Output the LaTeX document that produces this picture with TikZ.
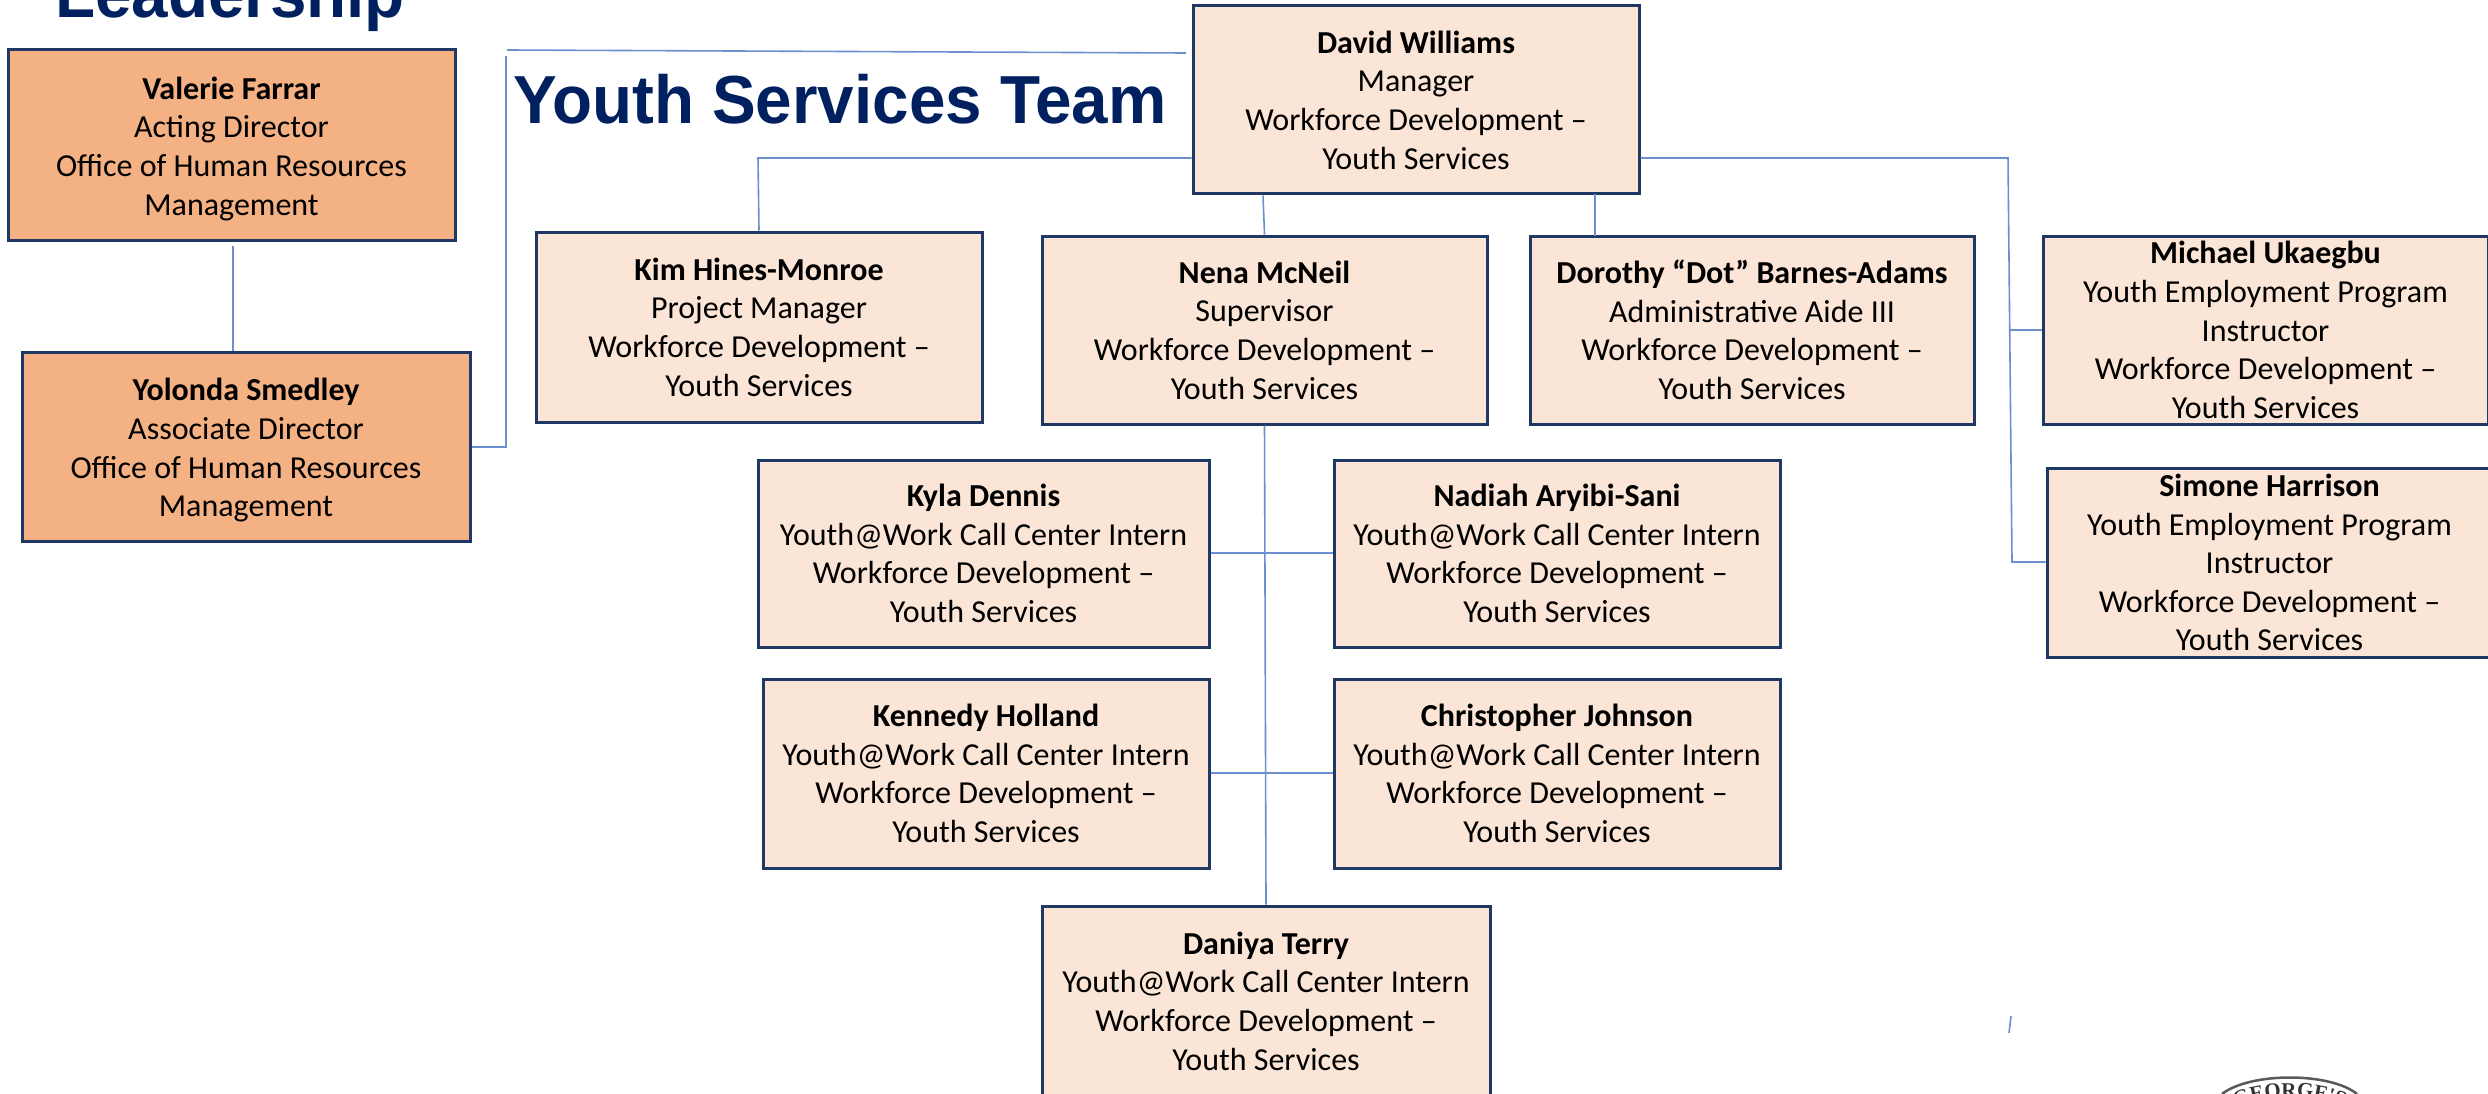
\documentclass[tikz,border=0pt]{standalone}
\usepackage{fontspec}
\setmainfont{Carlito}
\newfontfamily\titlefont{Liberation Sans}
\newfontfamily\sealfont{Liberation Serif}
\usetikzlibrary{calc,decorations.text}
\definecolor{navy}{HTML}{1F3864}
\definecolor{peach}{HTML}{FBE5D6}
\definecolor{orangebox}{HTML}{F4B183}
\definecolor{wire}{HTML}{6C8FD0}
\definecolor{titleblue}{HTML}{002060}
\tikzset{
  personbox/.style={draw=navy,line width=3pt,fill=peach,align=center,inner sep=0pt,text=black,
    font=\fontsize{32}{38.6}\selectfont},
  leadbox/.style={personbox,fill=orangebox},
  wireline/.style={draw=wire,line width=1.6pt},
  titletext/.style={font=\titlefont\bfseries\fontsize{68}{80}\selectfont,text=titleblue,inner sep=0pt,anchor=base west,xscale=0.964},
}
\newcommand{\pbox}[7][personbox]{%
  \node[#1,minimum width=#4pt-#2pt,minimum height=#5pt-#3pt] (#6) at ({(#2+#4)/2},{(#3+#5)/2}) {#7};}
\begin{document}
\begin{tikzpicture}[x=1pt,y=-1pt]
\useasboundingbox (0,0) rectangle (2488,1094);
\clip (0,0) rectangle (2488,1094);
\fill[white] (0,0) rectangle (2488,1094);

\coordinate (topL) at (507,50);
\coordinate (topR) at (1186,53);
\coordinate (vtop) at (506,56);
\coordinate (valend) at (233,246);
\coordinate (kimturn) at (758,158);
\coordinate (rturn) at (2008,158);
\coordinate (mbranch) at (2010,330);
\coordinate (sbranch) at (2012,562);
\coordinate (tickA) at (2011,1016);
\coordinate (tickB) at (2009,1033);

\pbox[leadbox]{8}{50}{455}{240}{valerie}{\rule{0pt}{30pt}\textbf{Valerie Farrar}\\Acting Director\\Office of Human Resources\\Management}
\pbox[leadbox]{22}{352}{470}{541}{yolonda}{\rule{0pt}{30pt}\textbf{Yolonda Smedley}\\Associate Director\\Office of Human Resources\\Management}
\pbox{1193}{6}{1639}{194}{david}{\textbf{David Williams}\\Manager\\Workforce Development --\\Youth Services}
\pbox{536}{232}{982}{422}{kim}{\textbf{Kim Hines-Monroe}\\Project Manager\\Workforce Development --\\Youth Services}
\pbox{1042}{236}{1487}{424}{nena}{\textbf{Nena McNeil}\\Supervisor\\Workforce Development --\\Youth Services}
\pbox{1530}{236}{1974}{424}{dot}{\textbf{Dorothy “Dot” Barnes-Adams}\\Administrative Aide III\\Workforce Development --\\Youth Services}
\pbox{2043}{236}{2488}{424}{michael}{\textbf{Michael Ukaegbu}\\Youth Employment Program\\Instructor\\Workforce Development --\\Youth Services}
\pbox{2047}{468}{2492}{657}{simone}{\textbf{Simone Harrison}\\Youth Employment Program\\Instructor\\Workforce Development --\\Youth Services}
\pbox{758}{460}{1209}{647}{kyla}{\textbf{Kyla Dennis}\\Youth@Work Call Center Intern\\Workforce Development --\\Youth Services}
\pbox{1334}{460}{1780}{647}{nadiah}{\textbf{Nadiah Aryibi-Sani}\\Youth@Work Call Center Intern\\Workforce Development --\\Youth Services}
\pbox{763}{679}{1209}{868}{kennedy}{\textbf{Kennedy Holland}\\Youth@Work Call Center Intern\\Workforce Development --\\Youth Services}
\pbox{1334}{679}{1780}{868}{chris}{\textbf{Christopher Johnson}\\Youth@Work Call Center Intern\\Workforce Development --\\Youth Services}
\pbox{1042}{906}{1490}{1096}{daniya}{\textbf{Daniya Terry}\\Youth@Work Call Center Intern\\Workforce Development --\\Youth Services}

\draw[wireline] (topL) -- (topR);
\draw[wireline] (vtop) -- (506,447) -- (yolonda.east |- 0,447);
\draw[wireline] (valend) -- (valend |- yolonda.north);
\draw[wireline] (david.west |- kimturn) -- (kimturn) -- (kim.north);
\draw[wireline] (david.south -| 1263,0) -- (nena.north);
\draw[wireline] (1595,194) -- (1595,236);
\draw[wireline] (david.east |- rturn) -- (rturn) -- (sbranch) -- (sbranch -| simone.west);
\draw[wireline] (mbranch) -- (mbranch -| michael.west);
\draw[wireline] (nena.south) -- (daniya.north);
\draw[wireline] (kyla.east |- 0,553) -- (nadiah.west |- 0,553);
\draw[wireline] (kennedy.east |- 0,773) -- (chris.west |- 0,773);
\draw[wireline] (tickA) -- (tickB);

\node[titletext] (leadership) at (55,18) {Leadership};
\node[titletext] (team) at (513,124) {Youth Services Team};

% seal, cut off by the lower edge
\draw[black!65,line width=2.5pt] (2222,1094) .. controls (2250,1072) and (2330,1072) .. (2357,1094);
\path[postaction={decorate,decoration={text along path,text align=center,
  text={|\sealfont\bfseries\fontsize{21}{21}\selectfont\color{black!80}|GEORGE'S}}}]
  (2228,1112) .. controls (2255,1092) and (2325,1092) .. (2351,1112);
\end{tikzpicture}
\end{document}
